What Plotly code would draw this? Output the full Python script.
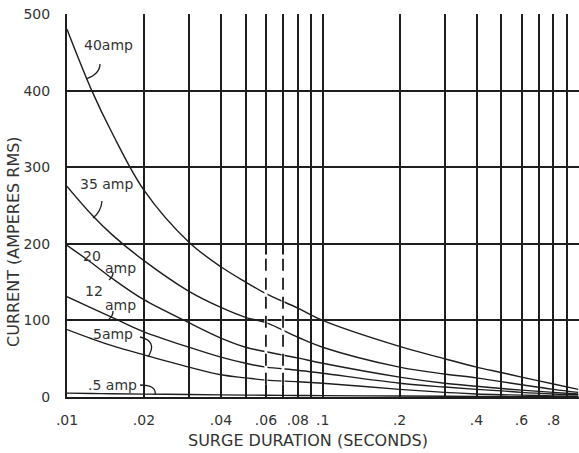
import plotly.graph_objects as go

# ---- data ----
duration_s = [0.01, 0.0125, 0.015, 0.02, 0.03, 0.04, 0.05, 0.06, 0.08, 0.1,
              0.2, 0.3, 0.4, 0.5, 0.6, 0.8, 1.0]
amp40 = [480, 400, 345, 270, 202, 170, 150, 135, 116, 100, 66, 50, 39, 32, 26, 17, 10]
amp35 = [275, 238, 212, 178, 138, 117, 104, 97, 78, 65, 39, 30, 25, 20, 16, 10, 6]
amp20 = [198, 175, 155, 127, 97, 77, 65, 59, 51, 44, 26, 18, 14, 11, 9, 6, 4]
amp12 = [131, 116, 104, 85, 65, 52, 44, 39, 35, 31, 18, 13, 10, 8, 6, 4, 3]
amp5 = [88, 76, 67, 55, 39, 29, 25, 22, 20, 18, 10, 6, 4, 3, 2.5, 1.5, 1]
amp05 = [5, 4.6, 4.3, 3.8, 3.2, 2.8, 2.5, 2.3, 2.0, 1.8, 1.3, 1.0, 0.8, 0.6, 0.5, 0.4, 0.3]
series = [("40amp", amp40), ("35 amp", amp35), ("20 amp", amp20),
          ("12 amp", amp12), ("5amp", amp5), (".5 amp", amp05)]

x_tickvals = [0.01, 0.02, 0.03, 0.04, 0.05, 0.06, 0.07, 0.08, 0.09, 0.1,
              0.2, 0.3, 0.4, 0.5, 0.6, 0.7, 0.8, 0.9, 1.0]
x_ticktext = [".01", ".02", "", ".04", "", ".06", "", ".08", "", ".1",
              ".2", "", ".4", "", ".6", "", ".8", "", "1"]
y_tickvals = [0, 100, 200, 300, 400, 500]
y_ticktext = ["0", "100", "200", "300", "400", "500"]

W, H = 579, 453
L, R, T, B = 67, 0, 14, 56
PW, PH = W - L - R, H - T - B

def px(x):
    return (x - L) / PW

def py(y):
    return (H - B - y) / PH

FONT = "DejaVu Sans"
INK = "#1e1e1e"
TXT = "#333333"

fig = go.Figure()
for name, vals in series:
    fig.add_trace(go.Scatter(
        x=duration_s, y=vals, mode="lines", name=name,
        line=dict(color=INK, width=1.4, shape="spline", smoothing=1.0),
        hoverinfo="x+y+name", showlegend=False))

shapes = []
# dashed portions of the .06 and .07 grid lines
for xv in (0.06, 0.07):
    shapes.append(dict(type="line", xref="x", yref="y", x0=xv, x1=xv, y0=16, y1=186,
                       line=dict(color="white", width=3)))
    shapes.append(dict(type="line", xref="x", yref="y", x0=xv, x1=xv, y0=16, y1=186,
                       line=dict(color=INK, width=1.8, dash="12px,7px")))

# label leader strokes (paper coordinates)
def path(pts):
    (x0, y0), (cx, cy), (x1, y1) = pts
    return (f"M {px(x0)} {py(y0)} Q {px(cx)} {py(cy)} {px(x1)} {py(y1)}")

leaders = [
    [(100, 64), (100, 74), (86, 79)],
    [(102, 201), (101, 212), (93, 218)],
    [(113, 272), (113, 277), (109, 280)],
    [(113, 311), (113, 316), (109, 319)],
    [(140, 337), (158, 341), (148, 357)],
    [(140, 385), (157, 385), (155, 395)],
]
for pts in leaders:
    shapes.append(dict(type="path", xref="paper", yref="paper", path=path(pts),
                       line=dict(color=INK, width=1.3)))

labels = [
    ("40amp", 108, 45),
    ("35 amp", 106, 184),
    ("20", 92, 256),
    ("amp", 120, 268),
    ("12", 94, 291),
    ("amp", 120, 305),
    ("5amp", 113, 334),
    (".5 amp", 112, 385),
]
annotations = []
for text, x, y in labels:
    annotations.append(dict(text=text, x=px(x), y=py(y), xref="paper", yref="paper",
                            showarrow=False, xanchor="center", yanchor="middle",
                            font=dict(family=FONT, size=14, color=TXT)))

annotations.append(dict(text="SURGE DURATION (SECONDS)", x=px(308), y=py(440),
                        xref="paper", yref="paper", showarrow=False,
                        xanchor="center", yanchor="middle",
                        font=dict(family=FONT, size=16, color=TXT)))
annotations.append(dict(text="CURRENT (AMPERES RMS)", x=px(13), y=py(242),
                        xref="paper", yref="paper", showarrow=False, textangle=-90,
                        xanchor="center", yanchor="middle",
                        font=dict(family=FONT, size=16, color=TXT)))

fig.update_layout(
    width=W, height=H, autosize=False,
    margin=dict(l=L, r=R, t=T, b=B, pad=0),
    paper_bgcolor="white", plot_bgcolor="white",
    shapes=shapes, annotations=annotations,
    xaxis=dict(type="log", range=[-2, 0.003], tickvals=x_tickvals, ticktext=x_ticktext,
               showgrid=True, gridcolor=INK, gridwidth=1.7,
               showline=True, linecolor=INK, linewidth=2,
               ticks="", ticklabelstandoff=9,
               tickfont=dict(family=FONT, size=14, color=TXT)),
    yaxis=dict(range=[0, 500], tickvals=y_tickvals, ticktext=y_ticktext,
               showgrid=True, gridcolor=INK, gridwidth=1.7, zeroline=False,
               showline=True, linecolor=INK, linewidth=2,
               ticks="", ticklabelstandoff=12,
               tickfont=dict(family=FONT, size=14, color=TXT)),
)

fig.write_html("out.html")
